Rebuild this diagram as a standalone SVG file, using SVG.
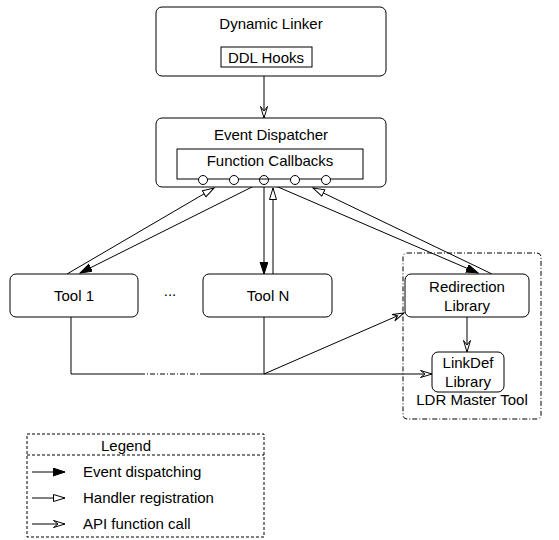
<svg xmlns="http://www.w3.org/2000/svg" width="559" height="540" viewBox="0 0 559 540">
<style>
text{font-family:"Liberation Sans",Arial,sans-serif;font-size:15px;fill:#000;text-anchor:middle}
.box{fill:#fff;stroke:#000;stroke-width:1}
.ln{fill:none;stroke:#000;stroke-width:1}
.dd{fill:none;stroke:#000;stroke-width:1;stroke-dasharray:5 2 1 2}
.ds{fill:none;stroke:#000;stroke-width:1;stroke-dasharray:3 2}
.lt{text-anchor:start}
</style>
<defs>
<marker id="ev" markerUnits="userSpaceOnUse" markerWidth="14" markerHeight="10" refX="12" refY="4" orient="auto"><path d="M0,0 L12,4 L0,8 Z" fill="#000" stroke="#000" stroke-width="1"/></marker>
<marker id="hr" markerUnits="userSpaceOnUse" markerWidth="14" markerHeight="10" refX="12" refY="4" orient="auto"><path d="M0.5,0.5 L12,4 L0.5,7.5 Z" fill="#fff" stroke="#000" stroke-width="1"/></marker>
<marker id="api" markerUnits="userSpaceOnUse" markerWidth="14" markerHeight="10" refX="12" refY="4" orient="auto"><path d="M0.5,0.5 L12,4 L0.5,7.5 L5,4 Z" fill="#fff" stroke="#000" stroke-width="1"/></marker>
</defs>

<g id="ldr-master-tool">
<rect class="dd" x="403" y="253" width="138" height="166" rx="4"/>
<text x="472" y="405">LDR Master Tool</text>
</g>

<g id="connectors">
<line class="ln" x1="264" y1="67" x2="264" y2="118" marker-end="url(#api)"/>
<line class="ln" x1="264" y1="181" x2="80" y2="273" marker-end="url(#ev)"/>
<line class="ln" x1="67" y1="274" x2="214" y2="188" marker-end="url(#hr)"/>
<line class="ln" x1="264" y1="181" x2="264" y2="274" marker-end="url(#ev)"/>
<line class="ln" x1="273" y1="274" x2="273" y2="188" marker-end="url(#hr)"/>
<line class="ln" x1="264" y1="181" x2="478" y2="273" marker-end="url(#ev)"/>
<line class="ln" x1="492" y1="274" x2="313" y2="188" marker-end="url(#hr)"/>
<polyline class="ln" points="71,317 71,374 140,374"/>
<line class="dd" x1="140" y1="374" x2="200" y2="374"/>
<line class="ln" x1="200" y1="374" x2="432" y2="374" marker-end="url(#api)"/>
<line class="ln" x1="264" y1="317" x2="264" y2="374"/>
<line class="ln" x1="264" y1="374" x2="404" y2="313" marker-end="url(#api)"/>
<line class="ln" x1="467" y1="317" x2="467" y2="352" marker-end="url(#api)"/>
</g>

<g id="dynamic-linker">
<rect class="box" x="156" y="7" width="230" height="69" rx="6"/>
<text x="271" y="29">Dynamic Linker</text>
<rect class="box" x="221" y="47" width="91" height="20"/>
<text x="266" y="63">DDL Hooks</text>
</g>

<g id="event-dispatcher">
<rect class="box" x="156" y="118" width="230" height="69" rx="6"/>
<text x="271" y="140">Event Dispatcher</text>
<rect class="box" x="177" y="149" width="186" height="30"/>
<text x="270" y="166">Function Callbacks</text>
<circle class="box" cx="203" cy="180" r="4.5"/>
<circle class="box" cx="234" cy="180" r="4.5"/>
<circle class="box" cx="295" cy="180" r="4.5"/>
<circle class="box" cx="326" cy="180" r="4.5"/>
<circle cx="264" cy="180" r="4.5" fill="none" stroke="#000"/>
</g>

<g id="tool-1">
<rect class="box" x="10" y="274" width="128" height="43" rx="6"/>
<text x="74" y="301">Tool 1</text>
</g>
<g id="ellipsis"><text x="170" y="296">...</text></g>
<g id="tool-n">
<rect class="box" x="203" y="274" width="129" height="43" rx="6"/>
<text x="268" y="301">Tool N</text>
</g>
<g id="redirection-library">
<rect class="box" x="405" y="274" width="124" height="43" rx="6"/>
<text x="467" y="292">Redirection</text>
<text x="467" y="311">Library</text>
</g>
<g id="linkdef-library">
<rect class="box" x="432" y="352" width="72" height="40" rx="6"/>
<text x="468" y="368">LinkDef</text>
<text x="468" y="387">Library</text>
</g>

<g id="legend">
<rect class="ds" x="27" y="434" width="237" height="103"/>
<line class="ds" x1="27" y1="455" x2="264" y2="455"/>
<text x="126" y="451">Legend</text>
<line class="ln" x1="32" y1="472" x2="65" y2="472" marker-end="url(#ev)"/>
<line class="ln" x1="32" y1="498" x2="65" y2="498" marker-end="url(#hr)"/>
<line class="ln" x1="32" y1="524" x2="65" y2="524" marker-end="url(#api)"/>
<text class="lt" x="83" y="477">Event dispatching</text>
<text class="lt" x="83" y="503">Handler registration</text>
<text class="lt" x="83" y="529">API function call</text>
</g>
</svg>
